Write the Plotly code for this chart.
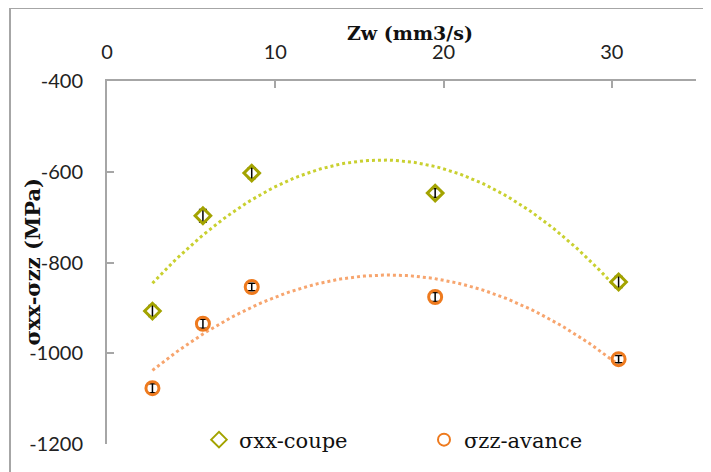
import numpy as np
import plotly.graph_objects as go

zw = [2.7, 5.7, 8.6, 19.5, 30.4]
sxx_coupe = [-907, -697, -603, -647, -843]
sxx_err = [12, 14, 12, 10, 12]
szz_avance = [-1077, -935, -854, -876, -1013]
szz_err = [10, 10, 8, 10, 8]

x_ticks = [0, 10, 20, 30]
y_ticks = [-400, -600, -800, -1000, -1200]
y_ticktext = ["-400", "-600", "-800", "-1000", "-1200"]

# page body has an 8px margin; work in page pixels and convert
OFF = 8
W, H = 711 - OFF, 472 - OFF
L, T = 107 - OFF, 81 - OFF
R, B = 711 - 696, 472 - 444
pw, ph = W - L - R, H - T - B

def px(xp):  # page pixel x -> paper
    return (xp - OFF - L) / pw

def py(yp):  # page pixel y -> paper
    return 1 - (yp - OFF - T) / ph

def trend(x, y):
    c = np.polyfit(x, y, 2)
    xs = np.linspace(min(x), max(x), 120)
    return xs, np.polyval(c, xs)

fig = go.Figure()
tx1, ty1 = trend(zw, sxx_coupe)
tx2, ty2 = trend(zw, szz_avance)
fig.add_trace(go.Scatter(x=tx1, y=ty1, mode="lines", showlegend=False,
                         line=dict(color="#C9D030", width=3, dash="dot"), hoverinfo="skip"))
fig.add_trace(go.Scatter(x=tx2, y=ty2, mode="lines", showlegend=False,
                         line=dict(color="#F7A56E", width=3, dash="dot"), hoverinfo="skip"))
fig.add_trace(go.Scatter(x=zw, y=sxx_coupe, mode="markers", name="σxx-coupe",
                         marker=dict(symbol="diamond-open", size=12, color="#A3A300",
                                     line=dict(width=3, color="#A3A300")),
                         error_y=dict(type="data", array=sxx_err, color="black", thickness=1.5, width=4)))
fig.add_trace(go.Scatter(x=zw, y=szz_avance, mode="markers", name="σzz-avance",
                         marker=dict(symbol="circle-open", size=13, color="#EE7A1E",
                                     line=dict(width=3, color="#EE7A1E")),
                         error_y=dict(type="data", array=szz_err, color="black", thickness=1.5, width=4)))

fig.update_layout(
    width=W, height=H,
    margin=dict(l=L, r=R, t=T, b=B, autoexpand=False),
    paper_bgcolor="white", plot_bgcolor="white",
    font=dict(family="Lato", size=20, color="#222"),
    xaxis=dict(range=[0, 35], side="top", tickvals=x_ticks, showgrid=False, zeroline=False,
               showline=True, linecolor="#A6A6A6", linewidth=2, ticks="inside", ticklen=7,
               tickcolor="#A6A6A6", tickwidth=2, ticklabelstandoff=12, automargin=False),
    yaxis=dict(range=[-1200, -400], tickvals=y_ticks, ticktext=y_ticktext, showgrid=False, zeroline=False,
               showline=True, linecolor="#A6A6A6", linewidth=2, ticks="inside", ticklen=7,
               tickcolor="#A6A6A6", tickwidth=2, ticklabelstandoff=18, automargin=False),
    legend=dict(orientation="h", x=px(199), y=py(440), xanchor="left", yanchor="middle",
                font=dict(family="DejaVu Serif", size=21, color="#111"), itemsizing="constant",
                entrywidth=180, bgcolor="rgba(0,0,0,0)"),
    annotations=[
        dict(text="<b>Zw (mm3/s)</b>", xref="paper", yref="paper", x=px(410), y=py(33),
             showarrow=False, font=dict(family="DejaVu Serif", size=19, color="#111"), xanchor="center", yanchor="middle"),
        dict(text="<b>σxx-σzz (MPa)</b>", xref="paper", yref="paper", x=px(32), y=0.5,
             textangle=-90, showarrow=False, font=dict(family="DejaVu Serif", size=21, color="#111"),
             xanchor="center", yanchor="middle"),
    ],
    shapes=[dict(type="rect", xref="paper", yref="paper", x0=px(10), x1=1.2,
                 y0=-0.3, y1=py(8), line=dict(color="#A6A6A6", width=2), layer="below")],
)

fig.write_html("out.html")
